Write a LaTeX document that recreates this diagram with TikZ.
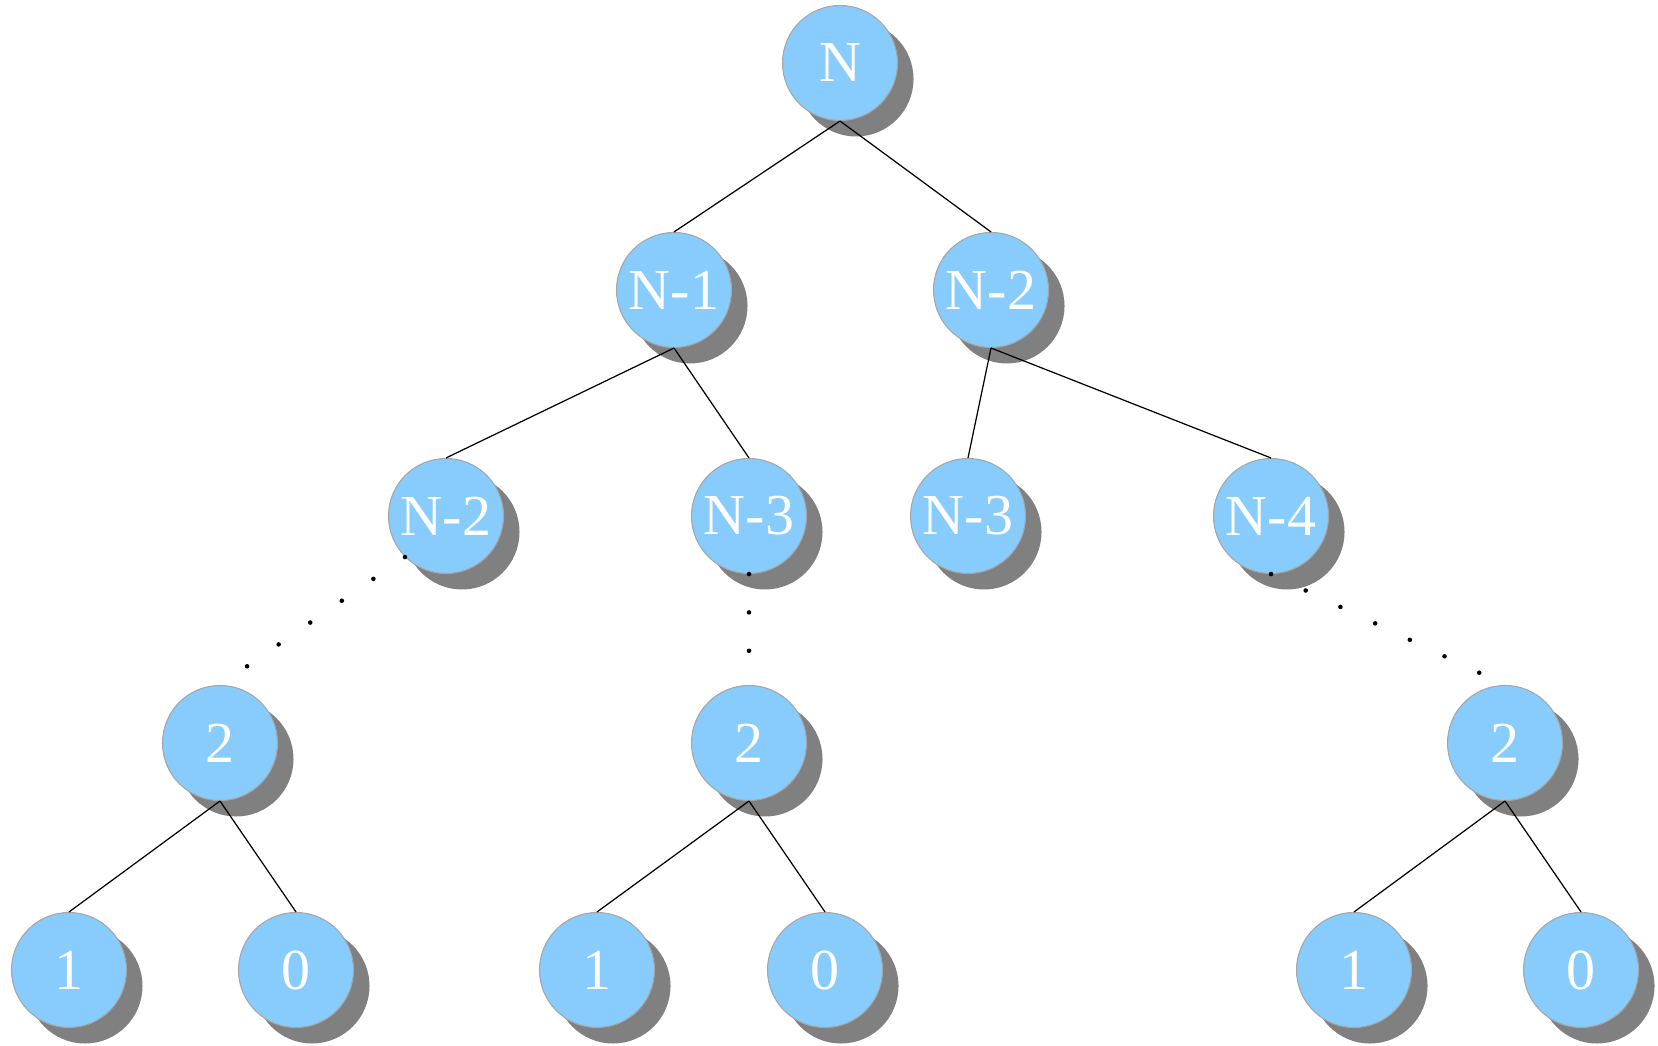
\documentclass[tikz,border=0pt]{standalone}
\usepackage{fontspec}
\setmainfont{Liberation Serif}
\usetikzlibrary{positioning, shadows}
\definecolor{callblue}{RGB}{135,204,252}

\tikzset{
  call/.style={circle, minimum size=1.15cm, inner sep=0pt, fill=callblue,
    draw=gray!70, line width=.3pt, text=white,
    font=\fontsize{16.5}{18}\selectfont,
    drop shadow={shadow xshift=.16cm, shadow yshift=-.16cm, fill=gray, opacity=1}},
  tie/.style={line width=.35pt},
  skip/.style={line width=1.3pt, line cap=round, dash pattern=on 0pt off .384cm}
}

\begin{document}
\begin{tikzpicture}
  \useasboundingbox (0,0) rectangle (16.58,10.45);

  % top of the call tree
  \node[call] (n)   at (8.40,9.82) {N};
  \node[call] (n1)  at (6.74,7.55) {N-1};
  \node[call] (n2)  at (9.91,7.55) {N-2};

  \node[call] (n2l) at (4.46,5.29) {N-2};
  \node[call] (n3m) at (7.49,5.29) {N-3};
  \node[call] (n3r) at (9.68,5.29) {N-3};
  \node[call] (n4)  at (12.71,5.29) {N-4};

  % bottom of the call tree
  \node[call] (twoa) at (2.20,3.02) {2};
  \node[call] (twob) at (7.49,3.02) {2};
  \node[call] (twoc) at (15.05,3.02) {2};

  \node[call] (onea)  at (0.69,0.75) {1};
  \node[call] (zeroa) at (2.96,0.75) {0};
  \node[call] (oneb)  at (5.97,0.75) {1};
  \node[call] (zerob) at (8.25,0.75) {0};
  \node[call] (onec)  at (13.54,0.75) {1};
  \node[call] (zeroc) at (15.81,0.75) {0};

  \draw[tie] (n.south) -- (n1.north);
  \draw[tie] (n.south) -- (n2.north);
  \draw[tie] (n1.south) -- (n2l.north);
  \draw[tie] (n1.south) -- (n3m.north);
  \draw[tie] (n2.south) -- (n3r.north);
  \draw[tie] (n2.south) -- (n4.north);

  \draw[skip] (n2l.south west) -- (twoa.north);
  \draw[skip] (n3m.south) -- (twob.north);
  \draw[skip] (n4.south) -- (twoc.north);

  \draw[tie] (twoa.south) -- (onea.north);
  \draw[tie] (twoa.south) -- (zeroa.north);
  \draw[tie] (twob.south) -- (oneb.north);
  \draw[tie] (twob.south) -- (zerob.north);
  \draw[tie] (twoc.south) -- (onec.north);
  \draw[tie] (twoc.south) -- (zeroc.north);
\end{tikzpicture}
\end{document}
